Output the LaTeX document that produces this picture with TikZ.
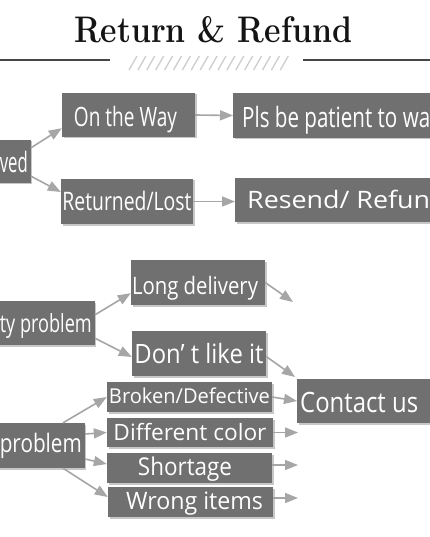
\documentclass[tikz,border=0pt]{standalone}
\usepackage{fontspec}
\setsansfont{Open Sans}
\usepackage{graphicx}
\usetikzlibrary{arrows.meta,shadows}
\definecolor{boxgray}{RGB}{112,112,112}
\definecolor{arrowgray}{RGB}{166,166,166}
\definecolor{rulegray}{RGB}{70,70,70}
\definecolor{hatchgray}{RGB}{205,205,205}
\definecolor{titleblack}{RGB}{20,20,20}
\newcommand\fitw[2]{\resizebox{#1}{\height}{#2}}
\newcommand\fs[1]{\fontsize{#1pt}{#1pt}\selectfont}
\tikzset{
  bx/.style 2 args={fill=boxgray,text=white,inner sep=0pt,text height=#1,text depth=#2,
    drop shadow={shadow xshift=1.5pt,shadow yshift=-1.5pt,opacity=0.22,fill=black}},
  arr/.style={draw=arrowgray,line width=1.6pt,-{Triangle[length=13pt,width=10pt]}},
  rulel/.style={draw=rulegray,line width=1.2pt},
  hatchl/.style={draw=hatchgray,line width=1.3pt}
}
\begin{document}
\begin{tikzpicture}[x=1pt,y=-1pt]
\useasboundingbox (0,0) rectangle (430,537);
\fill[white] (0,0) rectangle (430,537);
\clip (0,0) rectangle (430,537);

% title
\node[font=\fs{37}\rmfamily\bfseries,text=titleblack,anchor=base,inner sep=0pt] (title) at (213,43) {\fitw{278pt}{Return \& Refund}};
\coordinate (rl1) at (0,60); \coordinate (rl2) at (110,60);
\coordinate (rr1) at (303,60); \coordinate (rr2) at (430,60);
\draw[rulel] (rl1) -- (rl2);
\draw[rulel] (rr1) -- (rr2);
\foreach \i in {0,...,17} \draw[hatchl] (129+\i*8.9,70) -- (137+\i*8.9,56);

% section 1
\node[bx={33pt}{10pt},anchor=base east,font=\fs{28}\sffamily] (ved) at (31,173) {\hspace*{10pt}\fitw{28pt}{ved}\hspace*{3pt}};
\node[bx={34pt}{10pt},minimum width=133pt,anchor=base,font=\fs{26.6}\sffamily] (onway) at (128.5,127) {\fitw{103pt}{On the Way}\hspace*{6pt}};
\node[bx={35pt}{10pt},anchor=base west,font=\fs{28}\sffamily] (pls) at (233,128) {\hspace*{9pt}\fitw{188pt}{Pls be patient to wa}\hspace*{20pt}};
\node[bx={31pt}{14pt},minimum width=132pt,anchor=base,font=\fs{25.5}\sffamily] (retlost) at (127,210) {\fitw{129pt}{Returned/Lost}};
\node[bx={30pt}{14pt},anchor=base west,font=\fs{24}\sffamily] (resend) at (235,208) {\hspace*{12pt}\fitw{183pt}{Resend/ Refun}\hspace*{20pt}};

\draw[arr] ([yshift=-8pt]ved.north east) -- ([yshift=9pt]onway.south west);
\draw[arr] ([yshift=7pt]ved.south east) -- ([yshift=9.5pt]retlost.west);
\draw[arr] (onway.east) -- (pls.west);
\draw[arr] (retlost.east) -- (retlost.east -| resend.west);

% section 2
\node[bx={31pt}{13pt},anchor=base east,font=\fs{25}\sffamily] (typrob) at (95,332) {\hspace*{10pt}\fitw{92pt}{ty problem}\hspace*{3pt}};
\node[bx={34pt}{11pt},minimum width=134pt,anchor=base,font=\fs{24}\sffamily] (longdel) at (198,294) {\fitw{126pt}{Long delivery}\hspace*{6pt}};
\node[bx={32pt}{13pt},minimum width=134pt,anchor=base,font=\fs{26.6}\sffamily] (dont) at (199,363) {\fitw{129pt}{Don’ t like it}};
\coordinate (ldend) at (293,302);
\coordinate (dlend) at (295,377);

\draw[arr] ([yshift=-14pt]typrob.north east) -- ([yshift=12pt]longdel.south west);
\draw[arr] ([yshift=7pt]typrob.south east) -- ([yshift=-3.5pt]dont.west);
\draw[arr] (longdel.east) -- (ldend);
\draw[arr] ([yshift=-3pt]dont.east) -- (dlend);

% section 3
\node[bx={33pt}{11pt},anchor=base west,font=\fs{28}\sffamily] (contact) at (297,412) {\hspace*{3pt}\fitw{118pt}{Contact us}\hspace*{20pt}};
\node[bx={21pt}{9pt},minimum width=165pt,anchor=base,font=\fs{20.5}\sffamily] (broken) at (189.5,403) {\fitw{161pt}{Broken/Defective}};
\node[bx={22pt}{7pt},minimum width=166pt,anchor=base,font=\fs{22.5}\sffamily] (diffc) at (190,440) {\fitw{153pt}{Different color}};
\node[bx={22pt}{8pt},minimum width=165pt,anchor=base,font=\fs{24.5}\sffamily] (short) at (189.5,475) {\fitw{94pt}{Shortage}\hspace*{9pt}};
\node[bx={22pt}{8pt},minimum width=165pt,anchor=base,font=\fs{24}\sffamily] (wrong) at (190.5,509) {\hspace*{8pt}\fitw{137pt}{Wrong items}};
\node[bx={29pt}{16pt},anchor=base east,font=\fs{25.5}\sffamily] (prob) at (85,452) {\hspace*{10pt}\fitw{82pt}{problem}\hspace*{3pt}};
\coordinate (dcend) at (298,432.5);
\coordinate (shend) at (298,465);
\coordinate (wrend) at (298,498);

\draw[arr] ([xshift=-22pt]prob.north east) -- (broken.west);
\draw[arr] ([yshift=11.5pt]prob.east) -- (diffc.west);
\draw[arr] ([yshift=-13.5pt]prob.east) -- ([yshift=4pt]short.west);
\draw[arr] ([xshift=-22pt]prob.south east) -- ([yshift=5pt]wrong.west);
\draw[arr] (broken.east) -- (contact.west);
\draw[arr] (diffc.east) -- (dcend);
\draw[arr] ([yshift=3pt]short.east) -- (shend);
\draw[arr] ([yshift=4pt]wrong.east) -- (wrend);
\end{tikzpicture}
\end{document}
